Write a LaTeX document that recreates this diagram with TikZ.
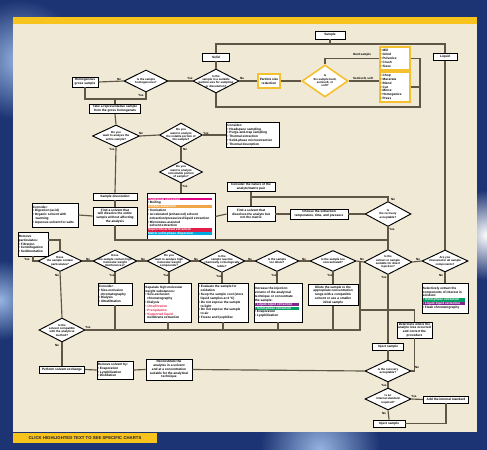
\documentclass[tikz,border=0pt]{standalone}
\usepackage{fontspec}
\setmainfont{Liberation Sans}
\usetikzlibrary{shapes.geometric}
\definecolor{beige}{RGB}{239,233,214}
\definecolor{linec}{RGB}{95,86,70}
\definecolor{ylw}{RGB}{247,196,30}
\definecolor{orng}{RGB}{245,192,45}
\definecolor{navy}{RGB}{28,52,115}
\definecolor{skyb}{RGB}{150,180,225}
\definecolor{hlmag}{RGB}{225,0,130}
\definecolor{hlorg}{RGB}{240,165,70}
\definecolor{hlred}{RGB}{225,30,70}
\definecolor{hlcyan}{RGB}{0,170,225}
\definecolor{hlpur}{RGB}{130,40,140}
\definecolor{hlgrn}{RGB}{0,160,100}
\setlength\fboxsep{0.2bp}
\newcommand\hlb[3]{\colorbox{#1}{\makebox[#2][l]{\color{white}#3}}}
\tikzset{
 bxs/.style={draw=black, fill=white, line width=0.95bp, inner sep=0},
 obxs/.style={draw=orng, fill=white, line width=1.6bp, inner sep=0},
 txt/.style={font=\bfseries\fontsize{3.2}{3.85}\selectfont, inner sep=0, text=black},
 lab/.style={font=\bfseries\fontsize{3.0}{3.3}\selectfont, inner sep=0, text=black},
 conn/.style={draw=linec, line width=1.15bp},
}
\newcommand\mybox[7][bxs]{\node[#1, minimum width=#5bp, minimum height=#6bp] (#2) at (#3,#4) {};\node[txt, align=center] at (#2) {#7};}
\newcommand\myboxl[7][bxs]{\node[#1, minimum width=#5bp, minimum height=#6bp] (#2) at (#3,#4) {};\node[txt, align=left, anchor=west] at ([xshift=1.2bp]#2.west) {#7};}
\newcommand\mydia[7][bxs]{\node[#1, diamond, minimum width=#5bp, minimum height=#6bp] (#2) at (#3,#4) {};\node[txt, font=\bfseries\fontsize{2.9}{3.35}\selectfont, align=center] at (#2) {#7};}
\begin{document}
\begin{tikzpicture}[x=1bp,y=-1bp]
\useasboundingbox (0,0) rectangle (487,450);
% background
\fill[navy] (0,0) rectangle (487,450);
\shade[inner color=skyb, outer color=navy] (20,60) circle (60);
\shade[inner color=white, outer color=navy] (487,235) circle (45);
\shade[inner color=skyb, outer color=navy] (320,450) circle (60);
\shade[inner color=skyb, outer color=navy] (0,300) circle (40);
\fill[beige] (13,20) rectangle (477,432);
\fill[ylw] (13,17) rectangle (477,24);
\fill[ylw] (13,433) rectangle (157,443);
\node[font=\bfseries\fontsize{4.3}{5}\selectfont, text={rgb,255:red,30;green,30;blue,60}, inner sep=0] (banner) at (85,438) {CLICK HIGHLIGHTED TEXT TO SEE SPECIFIC CHARTS};

% nodes
\mybox{sample}{330}{35}{30}{8}{Sample}
\mybox{solid}{216}{57}{27}{8}{Solid}
\mybox{liquid}{445}{57}{24}{7}{Liquid}
\mydia{dsize}{216}{81}{46}{24}{Is the\\sample in a suitable\\particle size for sampling\\or dissolution?}
\mybox[obxs]{psr}{269}{81}{22}{14}{Particle size\\reduction}
\mydia[obxs]{dhard}{325}{81}{46}{32}{Is\\the sample hard,\\semisoft, or\\soft?}
\myboxl[obxs]{hardbox}{395}{58.5}{30}{23}{• Mill\\• Grind\\• Pulverize\\• Crush\\• Sieve}
\myboxl[obxs]{softbox}{395}{87}{30}{30}{• Chop\\• Macerate\\• Blend\\• Cut\\• Mince\\• Homogenize\\• Press}
\mydia{dhomog}{146}{81}{44}{22}{Is the sample\\homogeneous?}
\mybox{homog}{85}{82}{26}{10}{Homogenous\\gross sample}
\mybox{takerep}{115}{109}{51}{9}{Take a representative sample\\from the gross homogenate}
\mydia{dentire}{116}{136}{47}{22}{Do you\\want to analyze the\\entire sample?}
\mydia{dvol}{181}{135}{43}{24}{Do you\\want to analyze\\the volatile portion of\\the sample?}
\myboxl{convol}{253}{135}{53}{25}{Consider:\\• Headspace sampling\\• Purge-and-trap sampling\\• Thermal extraction\\• Solid-phase microextraction\\• Thermal desorption}
\mydia{dnonvol}{181}{172}{43}{22}{Do you\\want to analyze\\nonvolatile portion\\of sample?}
\myboxl{extract}{181}{216.5}{68}{47}{\hlb{hlmag}{64bp}{Traditional extraction}\\• Boiling\\\hlb{hlorg}{64bp}{Soxhlet extraction}\\• Sonication\\• Accelerated (enhanced) solvent\\\ \ extraction/pressurized liquid extraction\\• Microwave-assisted\\\ \ solvent extraction\\\hlb{hlred}{64bp}{Supercritical fluid extraction}\\\hlb{hlcyan}{64bp}{Matrix solid-phase dispersion}}
\mybox{sdiss}{115}{196.5}{44}{7}{Sample dissolution}
\mybox{fsolv1}{115}{216}{44}{18}{Find a solvent that\\will dissolve the entire\\sample without affecting\\the analysis}
\myboxl{condig}{55}{215}{46}{24}{Consider:\\• Digestion (acid)\\• Organic solvent with\\\ \ \ warming\\• Aqueous solvent for salts}
\mybox{cnature}{251}{187}{48}{9}{Consider the nature of the\\analyte/matrix pair}
\mybox{fsolv2}{251}{214}{48}{15}{Find a solvent that\\dissolves the analyte but\\not the matrix}
\mybox{choose}{319}{214}{58}{10}{Choose the extraction\\temperature, time, and pressure}
\mydia{drec1}{388}{214}{46}{25}{Is\\the recovery\\acceptable?}

\mydia{dpart}{60}{261}{44}{21}{Does\\the sample contain\\particulates?}
\myboxl{rempart}{33}{244}{30}{24}{Remove\\particulates:\\• Filtration\\• Centrifugation\\• Sedimentation}
\mydia{dhmw}{115}{261}{44}{22}{Does\\the sample contain high\\molecular weight\\interferences?}
\myboxl{consec}{115}{294}{34}{22}{Consider:\\• Size-exclusion\\\ \ chromatography\\• Dialysis\\• Ultrafiltration}
\mydia{dlmw}{169}{261}{44}{22}{Do you\\want to analyze high\\molecular weight\\compounds?}
\myboxl{separ}{168}{302.5}{47}{39}{Separate high molecular\\weight substances:\\• Size-exclusion\\\ \ chromatography\\• Dialysis\\\textcolor{hlred}{• Ultrafiltration}\\\textcolor{hlred}{• Precipitation}\\\textcolor{hlred}{• Supported liquid}\\\ \ membrane extraction}
\mydia{dlab}{222}{261}{46}{23}{Is the\\sample reactive\\chemically or biologically\\labile?}
\myboxl{evalb}{223}{302.5}{50}{39}{• Evaluate the sample for\\\ \ oxidation\\• Keep the sample cool (store\\\ \ liquid samples at 4\,°C)\\• Do not expose the sample\\\ \ to light\\• Do not expose the sample\\\ \ to air\\• Freeze and lyophilize}
\mydia{ddil}{277}{261}{44}{21}{Is the sample\\too dilute?}
\myboxl{incr}{278}{302.5}{48}{39}{Increase the injection\\volume of the analytical\\technique or concentrate\\the sample:\\\hlb{hlpur}{44bp}{• Liquid-liquid extraction}\\\hlb{hlgrn}{44bp}{• Solid-phase extraction}\\• Evaporation\\• Lyophilization}
\mydia{dconc}{333}{261}{46}{21}{Is the sample too\\concentrated?}
\mybox{dilb}{333}{295}{50}{21}{Dilute the sample to the\\appropriate concentration\\range with a compatible\\solvent or use a smaller\\initial sample}
\mydia{ddir}{388}{262}{48}{25}{Is the\\extract or sample\\suitable for direct\\injection?}
\mydia{dint}{445}{261}{46}{22}{Are you\\interested in all sample\\components?}
\myboxl{selb}{445}{298}{46}{30}{Selectively extract the\\components of interest in\\solution:\\\hlb{hlgrn}{42bp}{• Solid-phase extraction}\\\hlb{hlpur}{42bp}{• Liquid-liquid extraction}\\• Flash chromatography}
\mybox{determ}{414.5}{330}{35}{16}{Determine where the\\analyte loss occurred\\and correct the\\procedure}
\mybox{inj1}{388}{346.5}{31}{7}{Inject sample}
\mydia{drec2}{388}{371}{46}{22}{Is the recovery\\acceptable?}
\mydia{distd}{388}{399}{46}{22}{Is an\\internal standard\\required?}
\mybox{addis}{446}{399.5}{45}{7}{Add the internal standard}
\mybox{inj2}{389}{423.5}{32}{7}{Inject sample}
\mydia{dsolv}{62}{330}{46}{24}{Is the\\solvent compatible\\with the analytical\\method?}
\mybox{sexch}{62}{369.5}{45}{7}{Perform solvent exchange}
\myboxl{remsolv}{115}{370}{36}{18}{Remove solvent by:\\• Evaporation\\• Lyophilization\\• Distillation}
\mybox{recon}{169}{369.5}{46}{21}{Reconstitute the\\analytes in a solvent\\and at a concentration\\suitable for the analytical\\technique}

% connectors
\draw[conn] (sample.south) -- (330,44);
\draw[conn] (solid.north) |- (445,44) -- (liquid.north);
\draw[conn] (solid.south) -- (dsize.north);
\draw[conn] (dsize.west) -- (dhomog.east);
\draw[conn] (dsize.east) -- (psr.west);
\draw[conn] (psr.east) -- (dhard.west);
\draw[conn] (dhard.north) |- (hardbox.west);
\draw[conn] (dhard.east) -- (dhard.east -| softbox.west);
\draw[conn] (hardbox.east) -- (420,58.5) -- (420,107) -| (dsize.south);
\draw[conn] (softbox.east) -- (420,87);
\draw[conn] (dhomog.west) -- (homog.east);
\draw[conn] (homog.south) -- (85,99) -- (146,99) -- (dhomog.south);
\draw[conn] (115,99) -- (takerep.north);
\draw[conn] (takerep.south) -- (dentire.north);
\draw[conn] (dentire.east) -- (dvol.west);
\draw[conn] (dvol.east) -- (convol.west);
\draw[conn] (dvol.south) -- (dnonvol.north);
\draw[conn] (dnonvol.south) -- (extract.north);
\draw[conn] (dentire.south) -- (sdiss.north);
\draw[conn] (sdiss.south) -- (fsolv1.north);
\draw[conn] (fsolv1.west) -- (condig.east);
\draw[conn] (fsolv1.south) -- (115,240) -- (388,240);
\draw[conn] (extract.east) -- (fsolv2.west);
\draw[conn] (cnature.south) -- (fsolv2.north);
\draw[conn] (fsolv2.east) -- (choose.west);
\draw[conn] (choose.east) -- (drec1.west);
\draw[conn] (drec1.north) |- (251,197);
\draw[conn] (drec1.south) -- (ddir.north);
\draw[conn] (rempart.east) ++(0,-4) -| (dpart.north);
\draw[conn] (dpart.west) -| (rempart.south);
\draw[conn] (dpart.east) -- (dhmw.west);
\draw[conn] (dhmw.east) -- (dlmw.west);
\draw[conn] (dlmw.east) -- (dlab.west);
\draw[conn] (dlab.east) -- (ddil.west);
\draw[conn] (ddil.east) -- (dconc.west);
\draw[conn] (dconc.east) -- (ddir.west);
\draw[conn] (ddir.east) -- (dint.west);
\draw[conn] (dpart.south) -- (dsolv.north);
\draw[conn] (dhmw.south) -- (consec.north);
\draw[conn] (dlmw.south) -- (dlmw.south |- separ.north);
\draw[conn] (dlab.south) -- (dlab.south |- evalb.north);
\draw[conn] (ddil.south) -- (ddil.south |- incr.north);
\draw[conn] (dconc.south) -- (dilb.north);
\draw[conn] (consec.south) -- (115,330);
\draw[conn] (separ.south) -- (168,330);
\draw[conn] (evalb.south) -- (223,330);
\draw[conn] (incr.south) -- (278,330);
\draw[conn] (dilb.south) -- (333,330);
\draw[conn] (dsolv.east) -- (360,330) -- (360,261);
\draw[conn] (determ.north) -- (414.5,310) -- (360,310);
\draw[conn] (ddir.south) -- (inj1.north);
\draw[conn] (dint.south) -- (selb.north);
\draw[conn] (liquid.south) -- (dint.north);
\draw[conn] (inj1.south) -- (drec2.north);
\draw[conn] (drec2.east) -| (determ.south);
\draw[conn] (recon.east) -- (drec2.west);
\draw[conn] (drec2.south) -- (distd.north);
\draw[conn] (distd.east) -- (addis.west);
\draw[conn] (distd.south) -- (inj2.north);
\draw[conn] (addis.south) |- (inj2.east);
\draw[conn] (dsolv.south) -- (sexch.north);
\draw[conn] (sexch.east) -- (remsolv.west);
\draw[conn] (remsolv.east) -- (recon.west);

% labels
\node[lab] (l1) at (190,78) {Yes};
\node[lab] (l2) at (242,78) {No};
\node[lab] (l3) at (362,55) {Hard sample};
\node[lab] (l4) at (363,78.5) {Semisoft, soft};
\node[lab] (l5) at (119,79) {No};
\node[lab] (l6) at (141,95.5) {Yes};
\node[lab] (l7) at (141,133.5) {No};
\node[lab] (l8) at (206,133) {Yes};
\node[lab] (l9) at (185,149.5) {No};
\node[lab] (l10) at (185,186.5) {Yes};
\node[lab] (l11) at (112,149.5) {Yes};
\node[lab] (l12) at (393,199) {No};
\node[lab] (l13) at (392,229.5) {Yes};
\node[lab] (l14) at (27,259) {Yes};
\node[lab] (l15) at (88,259) {No};
\node[lab] (l16) at (143,259) {No};
\node[lab] (l17) at (196,259) {No};
\node[lab] (l18) at (250,259) {No};
\node[lab] (l19) at (304,259) {No};
\node[lab] (l20) at (362,259) {No};
\node[lab] (l21) at (418,259) {No};
\node[lab] (l22) at (57,275) {No};
\node[lab] (l23) at (112,275.5) {Yes};
\node[lab] (l24) at (166,275.5) {Yes};
\node[lab] (l25) at (219,276) {Yes};
\node[lab] (l26) at (274,275) {Yes};
\node[lab] (l27) at (330,275) {Yes};
\node[lab] (l28) at (384,277) {Yes};
\node[lab] (l29) at (441,275.5) {No};
\node[lab] (l30) at (88,327) {Yes};
\node[lab] (l31) at (57,345.5) {No};
\node[lab] (l32) at (417,367.5) {No};
\node[lab] (l33) at (384,385) {Yes};
\node[lab] (l34) at (414,396) {Yes};
\node[lab] (l35) at (384,413) {No};
\end{tikzpicture}
\end{document}
